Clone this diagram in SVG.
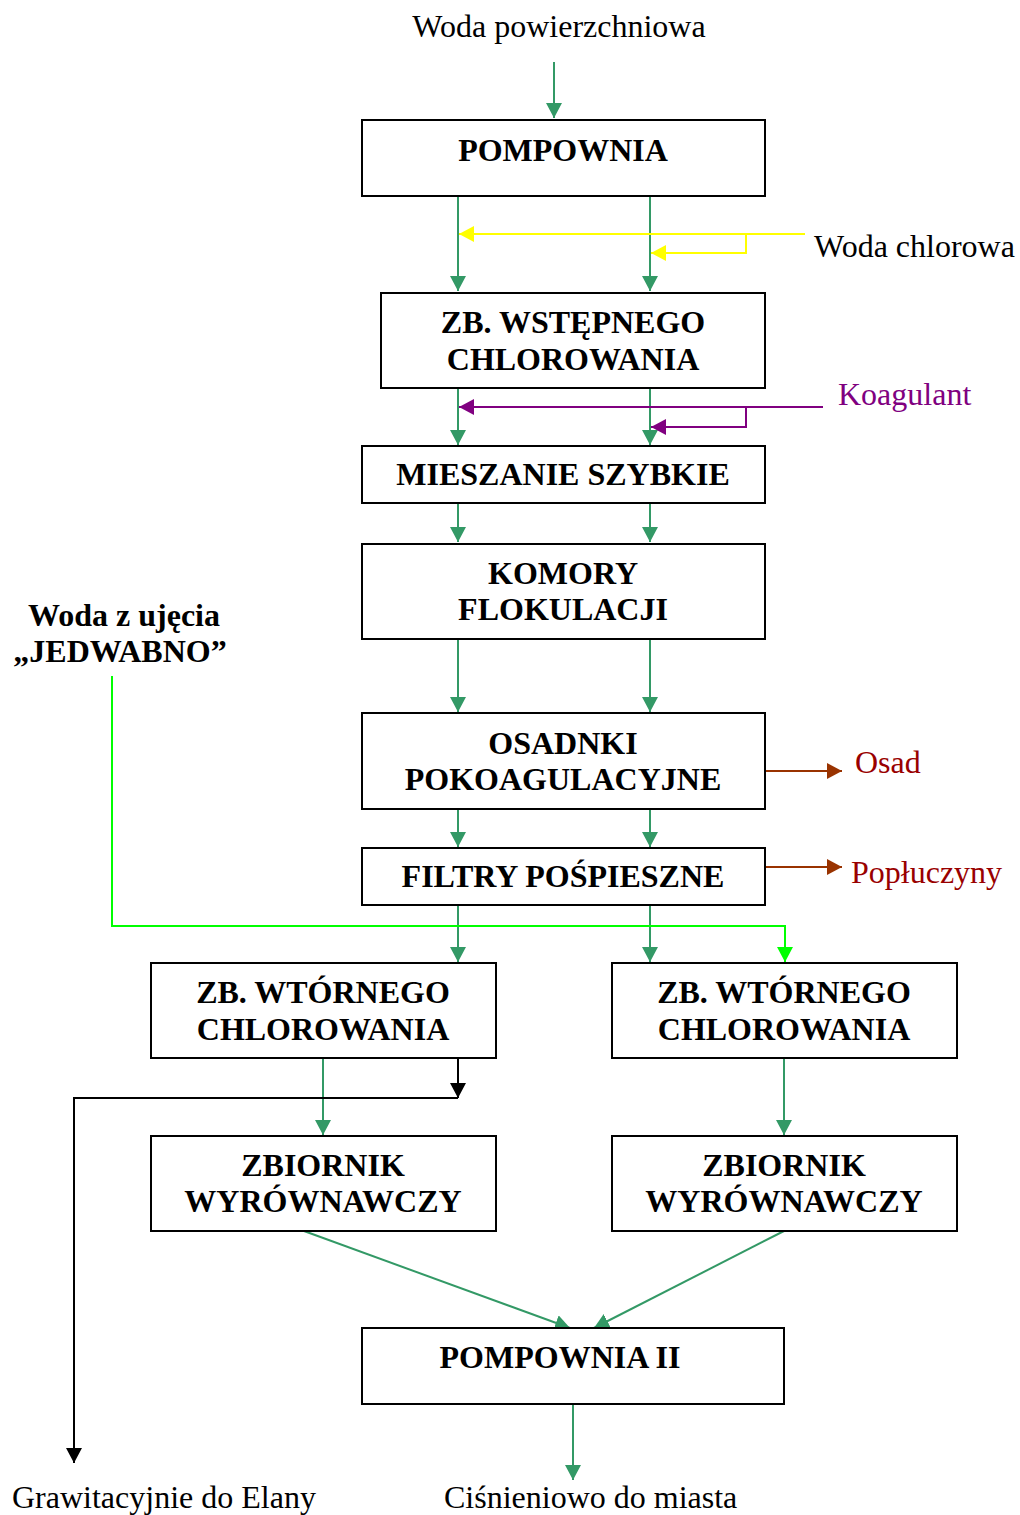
<svg xmlns="http://www.w3.org/2000/svg" width="1020" height="1515" viewBox="0 0 1020 1515">
<style>
.box{fill:#fff;stroke:#000;stroke-width:2}
.bt{font-family:"Liberation Serif",serif;font-weight:bold;font-size:32px;text-anchor:middle;fill:#000}
.lt{font-family:"Liberation Serif",serif;font-size:32px;fill:#000}
.g{stroke:#339966;stroke-width:2;fill:none;marker-end:url(#ag)}
.y{stroke:#FFFF00;stroke-width:2;fill:none;marker-end:url(#ay)}
.p{stroke:#800080;stroke-width:2;fill:none;marker-end:url(#ap)}
.b{stroke:#993300;stroke-width:2;fill:none;marker-end:url(#ab)}
.k{stroke:#000;stroke-width:2;fill:none;marker-end:url(#ak)}
.lg{stroke:#00FF00;stroke-width:2;fill:none;marker-end:url(#alg)}
</style>
<defs>
<marker id="ag" markerUnits="userSpaceOnUse" markerWidth="16" markerHeight="16" refX="15" refY="8" orient="auto"><path d="M0,0 L15,8 L0,16 z" fill="#339966"/></marker>
<marker id="ay" markerUnits="userSpaceOnUse" markerWidth="16" markerHeight="16" refX="15" refY="8" orient="auto"><path d="M0,0 L15,8 L0,16 z" fill="#FFFF00"/></marker>
<marker id="ap" markerUnits="userSpaceOnUse" markerWidth="16" markerHeight="16" refX="15" refY="8" orient="auto"><path d="M0,0 L15,8 L0,16 z" fill="#800080"/></marker>
<marker id="ab" markerUnits="userSpaceOnUse" markerWidth="16" markerHeight="16" refX="15" refY="8" orient="auto"><path d="M0,0 L15,8 L0,16 z" fill="#993300"/></marker>
<marker id="ak" markerUnits="userSpaceOnUse" markerWidth="16" markerHeight="16" refX="15" refY="8" orient="auto"><path d="M0,0 L15,8 L0,16 z" fill="#000"/></marker>
<marker id="alg" markerUnits="userSpaceOnUse" markerWidth="16" markerHeight="16" refX="15" refY="8" orient="auto"><path d="M0,0 L15,8 L0,16 z" fill="#00FF00"/></marker>
</defs>

<g id="connectors">
<path class="g" d="M554,62 V118"/>
<path class="g" d="M458,196 V291"/>
<path class="g" d="M650,196 V291"/>
<path class="y" d="M805,234 H459"/>
<path class="y" d="M746,234 V253 H651"/>
<path class="g" d="M458,388 V445"/>
<path class="g" d="M650,388 V445"/>
<path class="p" d="M823,407 H459"/>
<path class="p" d="M746,407 V427 H651"/>
<path class="g" d="M458,503 V542"/>
<path class="g" d="M650,503 V542"/>
<path class="g" d="M458,639 V712"/>
<path class="g" d="M650,639 V712"/>
<path class="b" d="M765,771 H842"/>
<path class="g" d="M458,809 V847"/>
<path class="g" d="M650,809 V847"/>
<path class="b" d="M765,867 H842"/>
<path class="g" d="M458,905 V962"/>
<path class="g" d="M650,905 V962"/>
<path class="lg" d="M112,676 V926 H785 V962"/>
<path class="g" d="M323,1058 V1135"/>
<path class="g" d="M784,1058 V1135"/>
<path class="k" d="M458,1058 V1098"/>
<path class="k" d="M458,1098 H74 V1463"/>
<path class="g" d="M304,1231 L570,1328"/>
<path class="g" d="M784,1231 L594,1328"/>
<path class="g" d="M573,1404 V1480"/>
</g>

<g id="n-pompownia"><rect class="box" x="362" y="120" width="403" height="76"/><text class="bt" x="563" y="161">POMPOWNIA</text></g>
<g id="n-wstepne"><rect class="box" x="381" y="293" width="384" height="95"/><text class="bt" x="573" y="333">ZB. WSTĘPNEGO</text><text class="bt" x="573" y="370">CHLOROWANIA</text></g>
<g id="n-mieszanie"><rect class="box" x="362" y="446" width="403" height="57"/><text class="bt" x="563" y="485">MIESZANIE SZYBKIE</text></g>
<g id="n-komory"><rect class="box" x="362" y="544" width="403" height="95"/><text class="bt" x="563" y="584">KOMORY</text><text class="bt" x="563" y="620">FLOKULACJI</text></g>
<g id="n-osadniki"><rect class="box" x="362" y="713" width="403" height="96"/><text class="bt" x="563" y="754">OSADNKI</text><text class="bt" x="563" y="790">POKOAGULACYJNE</text></g>
<g id="n-filtry"><rect class="box" x="362" y="848" width="403" height="57"/><text class="bt" x="563" y="887">FILTRY POŚPIESZNE</text></g>
<g id="n-wtorne-l"><rect class="box" x="151" y="963" width="345" height="95"/><text class="bt" x="323" y="1003">ZB. WTÓRNEGO</text><text class="bt" x="323" y="1040">CHLOROWANIA</text></g>
<g id="n-wtorne-r"><rect class="box" x="612" y="963" width="345" height="95"/><text class="bt" x="784" y="1003">ZB. WTÓRNEGO</text><text class="bt" x="784" y="1040">CHLOROWANIA</text></g>
<g id="n-zbiornik-l"><rect class="box" x="151" y="1136" width="345" height="95"/><text class="bt" x="323" y="1176">ZBIORNIK</text><text class="bt" x="323" y="1212">WYRÓWNAWCZY</text></g>
<g id="n-zbiornik-r"><rect class="box" x="612" y="1136" width="345" height="95"/><text class="bt" x="784" y="1176">ZBIORNIK</text><text class="bt" x="784" y="1212">WYRÓWNAWCZY</text></g>
<g id="n-pompownia2"><rect class="box" x="362" y="1328" width="422" height="76"/><text class="bt" x="560" y="1368">POMPOWNIA II</text></g>

<g id="labels">
<text class="lt" x="559" y="37" text-anchor="middle">Woda powierzchniowa</text>
<text class="lt" x="814" y="257">Woda chlorowa</text>
<text class="lt" x="838" y="405" style="fill:#800080">Koagulant</text>
<text class="lt" x="855" y="773" style="fill:#990000">Osad</text>
<text class="lt" x="851" y="883" style="fill:#990000">Popłuczyny</text>
<text class="bt" x="124" y="626">Woda z ujęcia</text>
<text class="bt" x="120" y="662">„JEDWABNO”</text>
<text class="lt" x="12" y="1508">Grawitacyjnie do Elany</text>
<text class="lt" x="444" y="1508">Ciśnieniowo do miasta</text>
</g>
</svg>
